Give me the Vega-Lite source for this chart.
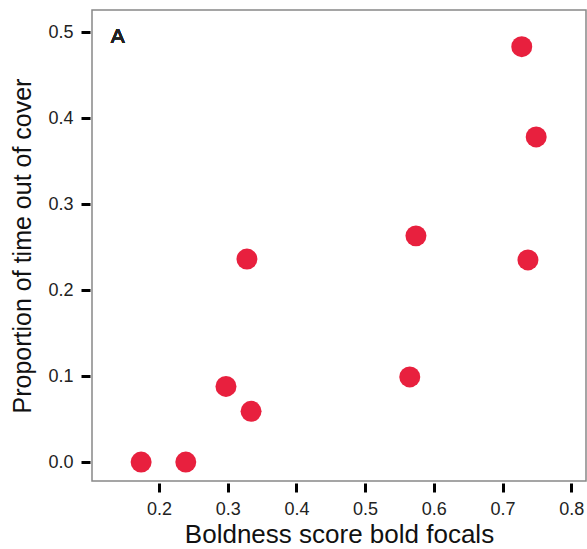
{
  "$schema": "https://vega.github.io/schema/vega-lite/v6.json",
  "autosize": "none",
  "width": 494,
  "height": 471,
  "padding": {"left": 92, "top": 10, "right": 1, "bottom": 68},
  "background": "white",
  "config": {
    "font": "Liberation Sans",
    "view": {"stroke": "#888888", "strokeWidth": 1.5}
  },
  "data": {
    "values": [
      {"boldness": 0.174, "prop": 0.0},
      {"boldness": 0.239, "prop": 0.0},
      {"boldness": 0.2975, "prop": 0.088},
      {"boldness": 0.334, "prop": 0.059},
      {"boldness": 0.328, "prop": 0.236},
      {"boldness": 0.565, "prop": 0.099},
      {"boldness": 0.574, "prop": 0.263},
      {"boldness": 0.728, "prop": 0.483},
      {"boldness": 0.749, "prop": 0.378},
      {"boldness": 0.737, "prop": 0.235}
    ]
  },
  "layer": [
    {
      "mark": {"type": "circle", "size": 440, "color": "#e8203e", "opacity": 1},
      "encoding": {
        "x": {
          "field": "boldness", "type": "quantitative",
          "scale": {"domain": [0.1025, 0.8215], "nice": false, "zero": false},
          "axis": {"title": "Boldness score bold focals", "values": [0.2, 0.3, 0.4, 0.5, 0.6, 0.7, 0.8], "format": ".1f", "offset": 2,
            "domain": false, "grid": false, "tickColor": "black", "tickWidth": 3, "tickSize": 9,
            "labelFont": "Liberation Sans", "labelFontSize": 18, "labelColor": "#222222", "labelPadding": 8,
            "titleFont": "Liberation Sans", "titleFontSize": 26, "titleFontWeight": "normal", "titleColor": "#111111", "titlePadding": 3}
        },
        "y": {
          "field": "prop", "type": "quantitative",
          "scale": {"domain": [-0.022, 0.5256], "nice": false, "zero": false},
          "axis": {"title": "Proportion of time out of cover", "values": [0, 0.1, 0.2, 0.3, 0.4, 0.5], "format": ".1f", "offset": 2,
            "domain": false, "grid": false, "tickColor": "black", "tickWidth": 3, "tickSize": 9,
            "labelFont": "Liberation Sans", "labelFontSize": 18, "labelColor": "#222222", "labelPadding": 8,
            "titleFont": "Liberation Sans", "titleFontSize": 25, "titleFontWeight": "normal", "titleColor": "#111111", "titlePadding": 12}
        }
      }
    },
    {
      "mark": {"type": "text", "fontSize": 21, "fontWeight": "normal", "font": "Liberation Sans", "color": "#222222", "align": "center", "baseline": "middle"},
      "encoding": {
        "x": {"datum": 0.140},
        "y": {"datum": 0.494},
        "text": {"value": "A"}
      }
    }
  ]
}
